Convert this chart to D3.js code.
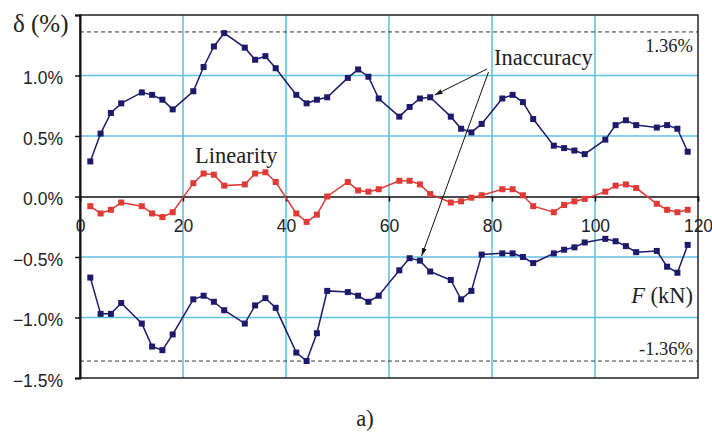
<!DOCTYPE html>
<html>
<head>
<meta charset="utf-8">
<script src="https://cdn.jsdelivr.net/npm/d3@7"></script>
<style>
  body { margin: 0; background: #fff; }
  svg { display: block; }
</style>
</head>
<body>
<svg width="712" height="432"></svg>
<script>
const width = 712, height = 432;
const marginTop = 15;
const marginRight = 14;
const marginBottom = 54;
const marginLeft = 80;
const svg = d3.select("svg");

// load F (kN)
const forces = [2, 4, 6, 8, 12, 14, 16, 18, 22, 24, 26, 28, 32, 34, 36, 38, 42, 44, 46, 48,
    52, 54, 56, 58, 62, 64, 66, 68, 72, 74, 76, 78, 82, 84, 86, 88, 92, 94, 96, 98,
    102, 104, 106, 108, 112, 114, 116, 118];

// upper inaccuracy (%)
const inaccUpper = [0.29, 0.52, 0.69, 0.77, 0.86, 0.84, 0.80, 0.72, 0.87, 1.07, 1.24, 1.35,
    1.23, 1.13, 1.16, 1.06, 0.84, 0.77, 0.80, 0.82, 0.98, 1.05, 0.99, 0.81,
    0.66, 0.74, 0.81, 0.82, 0.66, 0.56, 0.53, 0.60, 0.81, 0.84, 0.78, 0.64,
    0.42, 0.40, 0.38, 0.35, 0.47, 0.59, 0.63, 0.59, 0.57, 0.59, 0.56, 0.37];

// linearity (%)
const linearity = [-0.08, -0.14, -0.11, -0.05, -0.08, -0.14, -0.17, -0.13, 0.11, 0.19, 0.18, 0.09,
    0.10, 0.19, 0.20, 0.12, -0.14, -0.21, -0.15, 0.00, 0.12, 0.05, 0.04, 0.06,
    0.13, 0.13, 0.10, 0.02, -0.05, -0.04, -0.01, 0.01, 0.06, 0.06, 0.01, -0.08,
    -0.13, -0.07, -0.04, -0.02, 0.04, 0.09, 0.10, 0.07, -0.06, -0.11, -0.13, -0.11];

// lower inaccuracy (%)
const inaccLower = [-0.67, -0.97, -0.97, -0.88, -1.05, -1.24, -1.27, -1.14, -0.85, -0.82, -0.87, -0.94,
    -1.05, -0.90, -0.84, -0.92, -1.29, -1.36, -1.13, -0.78, -0.79, -0.82, -0.87, -0.82,
    -0.61, -0.51, -0.53, -0.62, -0.69, -0.85, -0.78, -0.48, -0.47, -0.47, -0.50, -0.55,
    -0.47, -0.44, -0.42, -0.38, -0.35, -0.37, -0.41, -0.46, -0.45, -0.58, -0.63, -0.40];

const limit = 1.36;
const xTicks = [0, 20, 40, 60, 80, 100, 120];
const yTicks = [-1.5, -1.0, -0.5, 0, 0.5, 1.0, 1.5];

const navy = "#1d1a6c";
const red = "#e03a36";
const gridColor = "#62c2e4";
const serif = "'Liberation Serif', 'Times New Roman', serif";
const sans = "'Liberation Sans', Arial, sans-serif";

const xScale = d3.scaleLinear()
    .domain([0, 120])
    .range([marginLeft, width - marginRight]);

const yScale = d3.scaleLinear()
    .domain([-1.5, 1.5])
    .range([height - marginBottom, marginTop]);

// grid
svg.append("g")
    .selectAll("line")
    .data(xTicks.filter(d => d > 0 && d < 120))
    .join("line")
    .attr("x1", d => xScale(d)).attr("x2", d => xScale(d))
    .attr("y1", yScale(1.5)).attr("y2", yScale(-1.5))
    .attr("stroke", gridColor)
    .attr("stroke-width", 1.6);

svg.append("g")
    .selectAll("line")
    .data(yTicks.filter(d => d !== 0 && Math.abs(d) < 1.5))
    .join("line")
    .attr("x1", xScale(0)).attr("x2", xScale(120))
    .attr("y1", d => yScale(d)).attr("y2", d => yScale(d))
    .attr("stroke", gridColor)
    .attr("stroke-width", 1.6);

// +-1.36% limits
svg.append("g")
    .selectAll("line")
    .data([limit, -limit])
    .join("line")
    .attr("x1", xScale(0)).attr("x2", xScale(120))
    .attr("y1", d => yScale(d)).attr("y2", d => yScale(d))
    .attr("stroke", "#333")
    .attr("stroke-width", 1)
    .attr("stroke-dasharray", "4,3");

// frame
svg.append("rect")
    .attr("x", xScale(0))
    .attr("y", yScale(1.5))
    .attr("width", xScale(120) - xScale(0))
    .attr("height", yScale(-1.5) - yScale(1.5))
    .attr("fill", "none")
    .attr("stroke", "#222")
    .attr("stroke-width", 1.5);

// y axis
const yAxis = d3.axisLeft(yScale)
    .tickValues(yTicks)
    .tickSize(5)
    .tickPadding(12)
    .tickFormat(d => d === 1.5 ? "" : d3.format(".1f")(d) + "%");

const gy = svg.append("g")
    .attr("transform", `translate(${xScale(0)}, 0)`)
    .call(yAxis);
gy.select(".domain").attr("stroke", "#111").attr("stroke-width", 2);
gy.selectAll(".tick line").attr("stroke", "#111").attr("stroke-width", 1.5);
gy.selectAll(".tick text")
    .attr("dy", "0.46em")
    .style("font-family", sans)
    .style("font-size", "17.5px")
    .attr("fill", "#222");

// x axis along zero
const xAxis = d3.axisBottom(xScale)
    .tickValues(xTicks)
    .tickSize(5)
    .tickPadding(18);

const gx = svg.append("g")
    .attr("transform", `translate(0, ${yScale(0)})`)
    .call(xAxis);
gx.select(".domain").attr("stroke", "#111").attr("stroke-width", 1.5);
gx.selectAll(".tick line").attr("stroke", "#111").attr("stroke-width", 1.5);
gx.selectAll(".tick text")
    .style("font-family", sans)
    .style("font-size", "17.5px")
    .attr("fill", "#222");

// series
const series = [
    { values: inaccUpper, color: navy },
    { values: linearity, color: red },
    { values: inaccLower, color: navy }
];

const lineGen = d3.line()
    .x(d => xScale(d[0]))
    .y(d => yScale(d[1]));

series.forEach(s => {
    const pts = forces.map((f, i) => [f, s.values[i]]);
    svg.append("path")
        .datum(pts)
        .attr("fill", "none")
        .attr("stroke", s.color)
        .attr("stroke-width", 1.5)
        .attr("d", lineGen);
    svg.append("g")
        .selectAll("rect")
        .data(pts)
        .join("rect")
        .attr("x", d => xScale(d[0]) - 3)
        .attr("y", d => yScale(d[1]) - 3)
        .attr("width", 6)
        .attr("height", 6)
        .attr("fill", s.color);
});

// arrow marker
svg.append("defs").append("marker")
    .attr("id", "arrow")
    .attr("viewBox", "0 0 10 6")
    .attr("refX", 10).attr("refY", 3)
    .attr("markerWidth", 8).attr("markerHeight", 5)
    .attr("markerUnits", "userSpaceOnUse")
    .attr("orient", "auto")
    .append("path")
    .attr("d", "M0,0L10,3L0,6Z")
    .attr("fill", "#111");

// Inaccuracy arrows -> points at 68 kN (upper) and 66 kN (lower)
const arrowStarts = [[487, 69], [488.5, 72]];
const arrowTargets = [[68, inaccUpper[forces.indexOf(68)]], [66, inaccLower[forces.indexOf(66)]]];
arrowTargets.forEach((t, i) => {
    const [sx, sy] = arrowStarts[i];
    const tx = xScale(t[0]), ty = yScale(t[1]);
    const len = Math.hypot(tx - sx, ty - sy);
    const ex = tx - (tx - sx) / len * 5, ey = ty - (ty - sy) / len * 5;
    svg.append("line")
        .attr("x1", sx).attr("y1", sy)
        .attr("x2", ex).attr("y2", ey)
        .attr("stroke", "#111")
        .attr("stroke-width", 1)
        .attr("marker-end", "url(#arrow)");
});

// labels
const addText = (x, y, txt, size, anchor) => svg.append("text")
    .attr("x", x).attr("y", y)
    .attr("text-anchor", anchor || "start")
    .style("font-family", serif)
    .style("font-size", size + "px")
    .attr("fill", "#222")
    .text(txt);

addText(13, 32, "δ (%)", 25);
addText(195, 163, "Linearity", 22.5);
addText(494, 65, "Inaccuracy", 22.5);
addText(693, 51.5, "1.36%", 18.5, "end");
addText(693, 355, "-1.36%", 18.5, "end");
addText(365, 426, "a)", 22.5, "middle");

const fLabel = svg.append("text")
    .attr("x", 693).attr("y", 303)
    .attr("text-anchor", "end")
    .style("font-family", serif)
    .style("font-size", "22.5px")
    .attr("fill", "#222");
fLabel.append("tspan").style("font-style", "italic").text("F");
fLabel.append("tspan").text(" (kN)");
</script>
</body>
</html>
